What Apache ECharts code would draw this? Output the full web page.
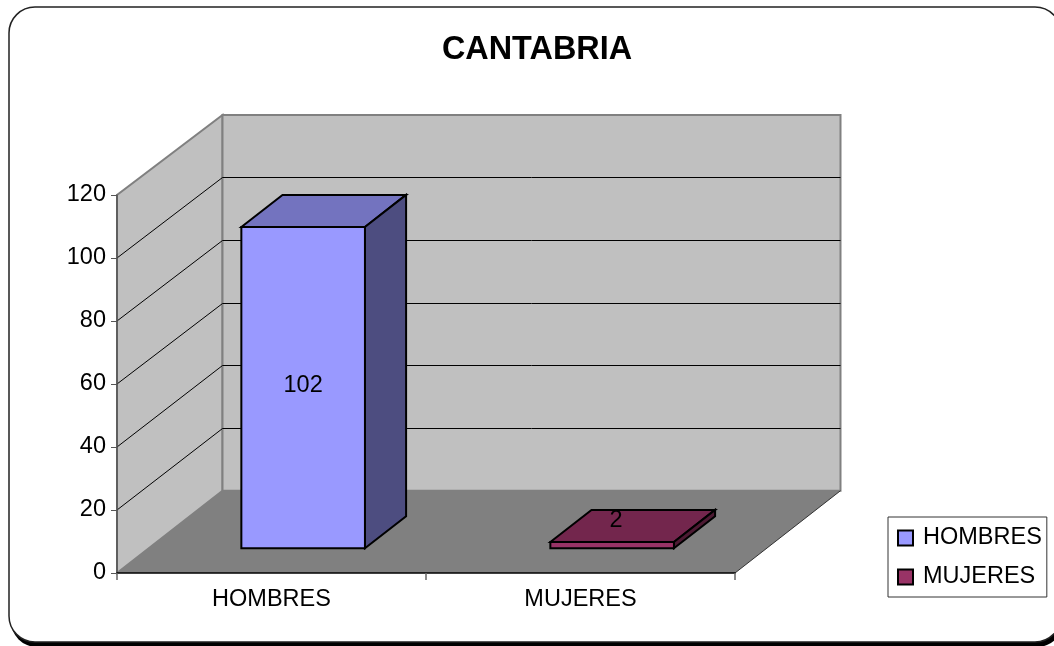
<!DOCTYPE html>
<html>
<head>
<meta charset="utf-8">
<title>CANTABRIA</title>
<script src="https://cdn.jsdelivr.net/npm/echarts@6/dist/echarts.min.js"></script>
<style>
html,body{margin:0;padding:0;background:#fff;}
#chart{width:1054px;height:646px;}
</style>
</head>
<body>
<div id="chart"></div>
<script>
var chartTitle = 'CANTABRIA';
var categories = ['HOMBRES', 'MUJERES'];
var values = [102, 2];
var yTicks = [0, 20, 40, 60, 80, 100, 120];

var frontColors = ['#9999FF', '#993366'];
var topColors = ['#7373BF', '#73264D'];
var sideColors = ['#4D4D80', '#4D1A33'];

// fake 3d: how far the back wall is shifted from the front plane
var wallDx = 105.5;
var wallDy = -82.3;
var wallScale = 0.9939; // back wall is a hair shorter than the front axis
var barStart = 0.3;   // bar front, share of floor depth
var barDepth = 0.39;  // bar depth, share of floor depth
var barShare = 0.4;   // bar width, share of category band
var fontName = '"Liberation Sans", Arial, sans-serif';

var myChart = echarts.init(document.getElementById('chart'));

function poly(points, fill, stroke, width) {
    return {
        type: 'polygon',
        shape: {points: points},
        style: {fill: fill, stroke: stroke || null, lineWidth: width || 0, lineJoin: 'miter'}
    };
}

function renderWalls(params, api) {
    var band = api.size([1, 0])[0];
    var first = api.coord([0, 0]);
    var x0 = first[0] - band / 2;
    var x1 = x0 + band * categories.length;
    var y0 = first[1];
    var yTop = api.coord([0, yTicks[yTicks.length - 1]])[1];
    var backY = function(y){ return y0 + wallDy + (y - y0) * wallScale; };
    var kids = [
        poly([[x0, y0], [x0 + wallDx, backY(y0)], [x1 + wallDx, backY(y0)], [x1, y0]], '#808080'),
        poly([[x0, y0], [x0, yTop], [x0 + wallDx, backY(yTop)], [x0 + wallDx, backY(y0)]], '#C0C0C0', '#808080', 2),
        poly([[x0 + wallDx, backY(y0)], [x0 + wallDx, backY(yTop)], [x1 + wallDx, backY(yTop)], [x1 + wallDx, backY(y0)]], '#C0C0C0', '#808080', 2)
    ];
    for (var i = 1; i < yTicks.length - 1; i++) {
        var y = api.coord([0, yTicks[i]])[1];
        // snap the back part to a pixel row so it stays thin and black
        var by = Math.round(backY(y) - 0.3) + 0.5;
        kids.push({
            type: 'polyline',
            shape: {points: [[x0, y], [x0 + wallDx, by], [x1 + wallDx, by]]},
            style: {fill: null, stroke: '#000', lineWidth: 1}
        });
    }
    // floor edge on the right, thin black
    kids.push({
        type: 'line',
        shape: {x1: x1, y1: y0, x2: x1 + wallDx, y2: backY(y0)},
        style: {stroke: '#333', lineWidth: 1}
    });
    return {type: 'group', children: kids};
}

function renderBar(params, api) {
    var i = api.value(0);
    var val = api.value(1);
    var band = api.size([1, 0])[0];
    var c0 = api.coord([i, 0]);
    var c1 = api.coord([i, val]);
    var w = band * barShare;
    var sx = wallDx * barStart;
    var sy = wallDy * barStart;
    var dx = wallDx * barDepth;
    var dy = wallDy * barDepth;
    var l = c0[0] - w / 2 + sx;
    var r = l + w;
    var b = c0[1] + sy;
    var t = c1[1] + sy;
    var h = b - t;
    // low bars get their label lifted over the top face, like excel does
    var low = h < 60;
    var labelY = low ? b - 28 : (b + t) / 2 - 2;
    var labelX = low ? (l + r) / 2 + 4 : (l + r) / 2;
    return {
        type: 'group',
        children: [
            poly([[l, t], [l + dx, t + dy], [r + dx, t + dy], [r, t]], topColors[i], '#000', 2),
            poly([[r, t], [r + dx, t + dy], [r + dx, b + dy], [r, b]], sideColors[i], '#000', 2),
            poly([[l, t], [r, t], [r, b], [l, b]], frontColors[i], '#000', 2),
            {
                type: 'text',
                z2: 10,
                style: {
                    text: String(val), x: labelX, y: labelY,
                    textAlign: 'center', textVerticalAlign: 'middle',
                    font: '23.5px ' + fontName, fill: '#000'
                }
            }
        ]
    };
}

var seriesList = [{
    type: 'custom',
    name: 'walls',
    silent: true,
    z: 1,
    renderItem: renderWalls,
    data: [[0, 0]]
}];
for (var k = 0; k < categories.length; k++) {
    seriesList.push({
        type: 'custom',
        name: categories[k],
        z: 2,
        silent: true,
        itemStyle: {color: frontColors[k]},
        renderItem: renderBar,
        data: [[k, values[k]]]
    });
}

var option = {
    animation: false,
    backgroundColor: '#fff',
    title: {
        text: chartTitle,
        left: 537,
        top: 34,
        padding: 0,
        textAlign: 'center',
        textStyle: {fontFamily: fontName, fontSize: 32.4, fontWeight: 'bold', color: '#000'}
    },
    legend: {
        orient: 'vertical',
        left: 888,
        top: 517,
        padding: [9, 5, 8, 9],
        itemGap: 15,
        itemWidth: 15,
        itemHeight: 15,
        borderColor: '#333',
        borderWidth: 1,
        backgroundColor: '#fff',
        textStyle: {fontFamily: fontName, fontSize: 23.5, color: '#000', padding: [0, 0, 0, 5]},
        data: categories.map(function(name, i){
            return {name: name, icon: 'rect', itemStyle: {color: frontColors[i], borderColor: '#000', borderWidth: 2}};
        })
    },
    grid: {left: 117, top: 195, width: 618, height: 378, containLabel: false},
    xAxis: {
        type: 'category',
        data: categories,
        z: 5,
        axisLine: {show: true, lineStyle: {color: '#000', width: 1.5}},
        axisTick: {show: true, alignWithLabel: false, length: 7, lineStyle: {color: '#666', width: 1.5}},
        axisLabel: {fontFamily: fontName, fontSize: 23.5, color: '#000', margin: 15}
    },
    yAxis: {
        type: 'value',
        min: yTicks[0],
        max: yTicks[yTicks.length - 1],
        interval: 20,
        z: 5,
        splitLine: {show: false},
        axisLine: {show: true, lineStyle: {color: '#555', width: 1.5}},
        axisTick: {show: true, length: 6, lineStyle: {color: '#555', width: 1}},
        axisLabel: {fontFamily: fontName, fontSize: 23.5, color: '#000', margin: 11}
    },
    series: seriesList,
    graphic: [
        {type: 'rect', z: -2, silent: true, shape: {x: 11, y: 10, width: 1052, height: 637, r: 26}, style: {fill: '#000'}},
        {type: 'rect', z: -1, silent: true, shape: {x: 9, y: 7, width: 1052, height: 635, r: 26}, style: {fill: '#fff', stroke: '#222', lineWidth: 1.5}}
    ]
};
myChart.setOption(option, true);
</script>
</body>
</html>
